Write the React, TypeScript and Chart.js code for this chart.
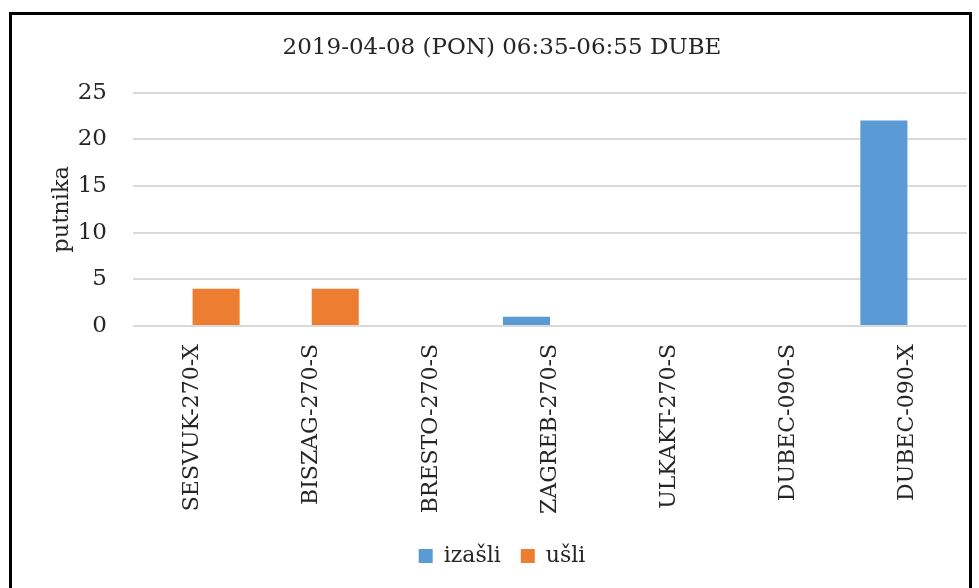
import React, { useEffect, useRef } from "react";
import { Chart, registerables } from "chart.js";

Chart.register(...registerables);

const titleText = "2019-04-08 (PON) 06:35-06:55 DUBE";
const yAxisTitle = "putnika";
const categories = [
  "SESVUK-270-X",
  "BISZAG-270-S",
  "BRESTO-270-S",
  "ZAGREB-270-S",
  "ULKAKT-270-S",
  "DUBEC-090-S",
  "DUBEC-090-X",
];
const izasli = [0, 0, 0, 1, 0, 0, 22];
const usli = [4, 4, 0, 0, 0, 0, 0];
const yTicks = { min: 0, max: 25, step: 5 };

const FONT = "'DejaVu Serif', serif";

export default function App() {
  const ref = useRef<HTMLCanvasElement | null>(null);
  useEffect(() => {
    if (!ref.current) return;
    const chart = new Chart(ref.current, {
      type: "bar",
      data: {
        labels: categories,
        datasets: [
          { label: "izašli", data: izasli, backgroundColor: "#5B9BD5", borderWidth: 0 },
          { label: "ušli", data: usli, backgroundColor: "#ED7D31", borderWidth: 0 },
        ],
      },
      options: {
        responsive: false,
        animation: false,
        layout: { padding: { left: 37, right: 12, top: 0, bottom: 11 } },
        datasets: { bar: { categoryPercentage: 0.79, barPercentage: 1.0 } },
        plugins: {
          tooltip: { enabled: false },
          title: {
            display: true,
            text: titleText,
            color: "#262626",
            font: { family: FONT, size: 23, weight: "normal", lineHeight: 1.2 },
            padding: { top: 34, bottom: 31 },
          },
          legend: {
            position: "bottom",
            labels: {
              color: "#262626",
              font: { family: FONT, size: 22 },
              boxWidth: 14,
              boxHeight: 14,
              padding: 20,
            },
          },
        },
        scales: {
          x: {
            grid: { display: false },
            border: { display: false },
            ticks: {
              color: "#262626",
              font: { family: FONT, size: 22 },
              minRotation: 90,
              maxRotation: 90,
              padding: 10,
              autoSkip: false,
            },
            afterFit: (s: any) => {
              s.height = 199;
            },
          },
          y: {
            min: yTicks.min,
            max: yTicks.max,
            ticks: {
              stepSize: yTicks.step,
              color: "#262626",
              font: { family: FONT, size: 23 },
              padding: 26,
            },
            grid: { color: "#d9d9d9", lineWidth: 2, drawTicks: false },
            border: { display: false },
            title: {
              display: true,
              text: yAxisTitle,
              color: "#262626",
              font: { family: FONT, size: 22.5 },
              padding: { top: 12, bottom: 0 },
            },
            afterFit: (s: any) => {
              s.width = 96;
            },
          },
        },
      },
    });
    return () => chart.destroy();
  }, []);
  return (
    <div style={{ position: "fixed", left: 0, top: 0, width: 979, height: 588, background: "#fff", overflow: "hidden" }}>
      <canvas ref={ref} width={979} height={588} style={{ position: "absolute", left: 0, top: 0, width: 979, height: 588 }} />
      <div
        style={{
          position: "absolute",
          left: 9,
          top: 12,
          width: 963,
          height: 620,
          border: "3px solid #000",
          boxSizing: "border-box",
          pointerEvents: "none",
        }}
      />
    </div>
  );
}
